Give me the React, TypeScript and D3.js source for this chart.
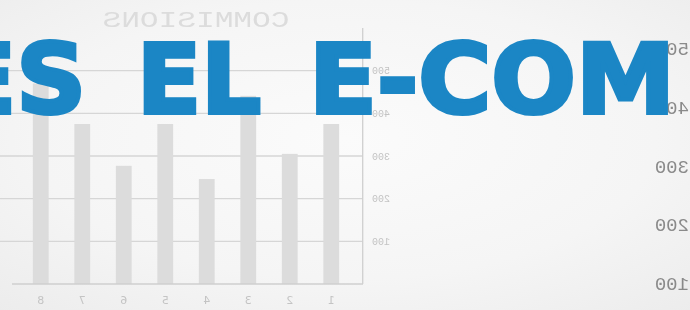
import React, { useEffect } from "react";
import * as d3 from "d3";

const W = 690;
const H = 310;

// mirrored bar chart (drawn as-is, then flipped)
const categories = ["1", "2", "3", "4", "5", "6", "7", "8"];
const commissions = [375, 305, 441, 246, 375, 277, 375, 470];
const gridTicks = [100, 200, 300, 400, 500];
const chartTitle = "COMMISIONS";

// axis labels of a second chart peeking in on the right
const sideTicks = [100, 200, 300, 400, 500];

const headline = ["ES", "EL", "E-COM"];

const x = d3.scaleBand<string>()
  .domain(categories)
  .range([338, 670])
  .paddingInner(0.62)
  .paddingOuter(0.31);

const y = d3.scaleLinear().domain([0, 600]).range([284, 28]);

const ySide = d3.scaleLinear().domain([100, 500]).range([290, 55]);

const blue = "#1b86c5";

export default function App() {
  useEffect(() => {
    document.body.style.margin = "0";
  }, []);

  return (
    <svg width={W} height={H} style={{ position: "fixed", left: 0, top: 0, display: "block" }}>
      <defs>
        <radialGradient id="bg" cx="0.5" cy="0.45" r="0.75">
          <stop offset="0" stopColor="#fbfbfb" />
          <stop offset="0.6" stopColor="#f5f5f5" />
          <stop offset="1" stopColor="#ececec" />
        </radialGradient>
      </defs>
      <rect width={W} height={H} fill="url(#bg)" />

      {/* everything in here is mirrored left-right */}
      <g transform={`translate(${W},0) scale(-1,1)`}>
        <text
          x={494}
          y={27}
          textAnchor="middle"
          textLength={187}
          lengthAdjust="spacingAndGlyphs"
          style={{ fontFamily: "Liberation Mono", fontSize: 22, fill: "#dcdcdc" }}
        >
          {chartTitle}
        </text>

        {gridTicks.map(t => (
          <g key={t}>
            <line x1={327} x2={W} y1={y(t)} y2={y(t)} stroke="#d6d6d6" strokeWidth={1.3} />
            <text
              x={318}
              y={y(t) + 3.5}
              textAnchor="end"
              style={{ fontFamily: "Liberation Mono", fontSize: 10, fill: "#c4c4c4" }}
            >
              {t}
            </text>
          </g>
        ))}

        {categories.map((c, i) => (
          <rect
            key={c}
            x={x(c)}
            y={y(commissions[i])}
            width={x.bandwidth()}
            height={y(0) - y(commissions[i])}
            fill="#dcdcdc"
          />
        ))}

        <line x1={327.3} x2={327.3} y1={y(600)} y2={y(0)} stroke="#cfcfcf" strokeWidth={1.3} />
        <line x1={327} x2={678} y1={y(0)} y2={y(0)} stroke="#cfcfcf" strokeWidth={1.5} />

        {categories.map(c => (
          <text
            key={c}
            x={(x(c) ?? 0) + x.bandwidth() / 2}
            y={304}
            textAnchor="middle"
            style={{ fontFamily: "DejaVu Sans", fontSize: 11, fill: "#c4c4c4" }}
          >
            {c}
          </text>
        ))}

        {sideTicks.map(t => (
          <text
            key={t}
            x={1}
            y={ySide(t)}
            textAnchor="start"
            style={{ fontFamily: "Liberation Mono", fontSize: 19, fill: "#8a8a8a" }}
          >
            {t}
          </text>
        ))}
      </g>

      {/* headline, drawn un-mirrored; stroke thickens DejaVu bold toward the original heavy face */}
      <g
        style={{ fontFamily: "DejaVu Sans", fontWeight: 700, fontSize: 97, fill: blue }}
        stroke={blue}
        strokeWidth={4}
        strokeLinejoin="miter"
      >
        <text x={86} y={113} textAnchor="end">{headline[0]}</text>
        <text x={137} y={113} textLength={124} lengthAdjust="spacingAndGlyphs">{headline[1]}</text>
        <text x={309} y={113} textLength={366} lengthAdjust="spacingAndGlyphs">{headline[2]}</text>
      </g>
    </svg>
  );
}
